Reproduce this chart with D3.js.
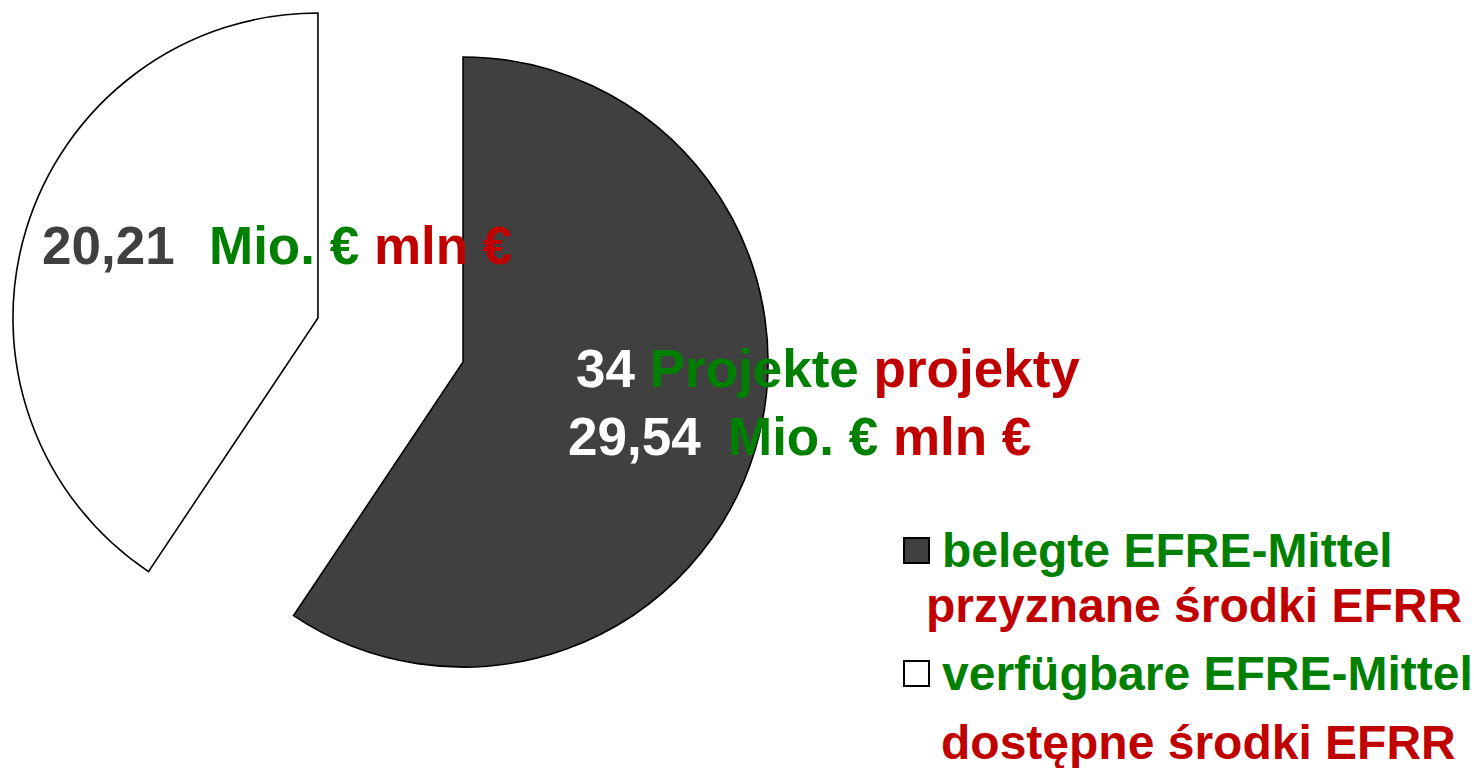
<!DOCTYPE html>
<html>
<head>
<meta charset="utf-8">
<script src="https://cdn.jsdelivr.net/npm/d3@7"></script>
<style>
  html, body { margin: 0; padding: 0; background: #ffffff; }
  svg { display: block; }
  text { font-family: "Liberation Sans", Arial, Helvetica, sans-serif; font-weight: bold; }
</style>
</head>
<body>
<script>
// ---- data ----
const categoriesDE = ["belegte EFRE-Mittel", "verfügbare EFRE-Mittel"];
const categoriesPL = ["przyznane środki EFRR", "dostępne środki EFRR"];
const values = [29.54, 20.21];
const projectCount = 34;
const sliceColors = ["#404040", "#ffffff"];
const unitDE = "Mio. €";
const unitPL = "mln €";
const projectsDE = "Projekte";
const projectsPL = "projekty";

// ---- layout ----
const W = 1474, H = 768;
const green = "#008000", red = "#C00000", grey = "#404040";
const cx = 390.5, cy = 340, R = 305, explode = 75.8;

const svg = d3.select("body").append("svg").attr("width", W).attr("height", H);

const pie = d3.pie().sort(null).value(d => d);
const arcs = pie(values);
const arc = d3.arc().innerRadius(0).outerRadius(R);

const offset = d => {
  const m = (d.startAngle + d.endAngle) / 2;
  return [cx + explode * Math.sin(m), cy - explode * Math.cos(m)];
};

svg.append("g").selectAll("path")
  .data(arcs)
  .join("path")
  .attr("transform", d => `translate(${offset(d)})`)
  .attr("d", arc)
  .attr("fill", (d, i) => sliceColors[i])
  .attr("stroke", "#000")
  .attr("stroke-width", 1.6)
  .attr("stroke-linejoin", "miter");

const fmt = v => d3.format(".2f")(v).replace(".", ",");

// dark slice labels
const lab = svg.append("g").style("font-size", "53px");
const t1 = lab.append("text").attr("x", 576).attr("y", 387);
t1.append("tspan").attr("fill", "#ffffff").text(projectCount + " ");
t1.append("tspan").attr("fill", green).text(projectsDE + " ");
t1.append("tspan").attr("fill", red).text(projectsPL);

lab.append("text").attr("x", 568).attr("y", 455).attr("fill", "#ffffff").text(fmt(values[0]));
const t2 = lab.append("text").attr("x", 728).attr("y", 455);
t2.append("tspan").attr("fill", green).text(unitDE + " ");
t2.append("tspan").attr("fill", red).text(unitPL);

// white slice labels
lab.append("text").attr("x", 42).attr("y", 264).attr("fill", grey).text(fmt(values[1]));
const t3 = lab.append("text").attr("x", 209).attr("y", 264);
t3.append("tspan").attr("fill", green).text(unitDE + " ");
t3.append("tspan").attr("fill", red).text(unitPL);

// legend
const leg = svg.append("g").style("font-size", "48px");
const legRows = [
  { sq: [904, 538], de: [942, 567], pl: [926, 622] },
  { sq: [904, 661], de: [942, 690], pl: [941, 759] }
];
categoriesDE.forEach((c, i) => {
  const r = legRows[i];
  leg.append("rect").attr("x", r.sq[0]).attr("y", r.sq[1]).attr("width", 25).attr("height", 25)
    .attr("fill", sliceColors[i]).attr("stroke", "#000").attr("stroke-width", 2);
  leg.append("text").attr("x", r.de[0]).attr("y", r.de[1]).attr("fill", green).text(c);
  leg.append("text").attr("x", r.pl[0]).attr("y", r.pl[1]).attr("fill", red).text(categoriesPL[i]);
});
</script>
</body>
</html>
